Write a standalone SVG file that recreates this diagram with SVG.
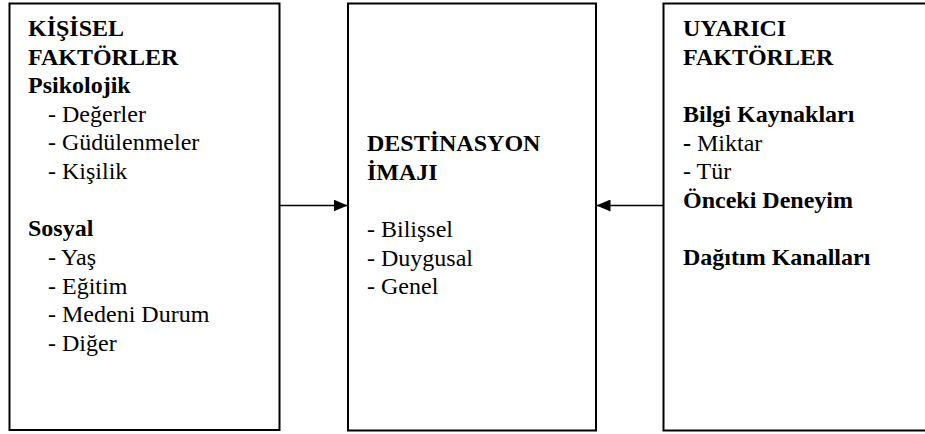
<svg xmlns="http://www.w3.org/2000/svg" width="925" height="434" viewBox="0 0 925 434" font-family="Liberation Serif, Times New Roman, serif" font-size="24">
  <style>
    .box { fill: #ffffff; stroke: #000000; stroke-width: 2; }
    .conn { stroke: #000000; stroke-width: 1.6; fill: none; }
    .b { font-weight: bold; }
  </style>
  <defs>
    <marker id="arrow" markerWidth="14" markerHeight="12" refX="14" refY="6" orient="auto" markerUnits="userSpaceOnUse" viewBox="0 0 14 12">
      <path d="M0,0 L14,6 L0,12 Z" fill="#000000"/>
    </marker>
  </defs>
  <rect width="925" height="434" fill="#ffffff"/>

  <g id="kisisel-faktorler">
    <rect class="box" x="9.5" y="3.5" width="270" height="426.5"/>
    <text class="b" x="28" y="36">KİŞİSEL</text>
    <text class="b" x="28" y="64.6">FAKTÖRLER</text>
    <text class="b" x="28" y="93.2">Psikolojik</text>
    <text x="48" y="121.8">- Değerler</text>
    <text x="48" y="150.4">- Güdülenmeler</text>
    <text x="48" y="179">- Kişilik</text>
    <text class="b" x="28" y="236.3">Sosyal</text>
    <text x="48" y="265">- Yaş</text>
    <text x="48" y="293.6">- Eğitim</text>
    <text x="48" y="322.3">- Medeni Durum</text>
    <text x="48" y="351">- Diğer</text>
  </g>

  <g id="destinasyon-imaji">
    <rect class="box" x="348" y="3.5" width="248" height="427"/>
    <text class="b" x="367" y="151.4">DESTİNASYON</text>
    <text class="b" x="367" y="180">İMAJI</text>
    <text x="367" y="237.3">- Bilişsel</text>
    <text x="367" y="265.5">- Duygusal</text>
    <text x="367" y="293.5">- Genel</text>
  </g>

  <g id="uyarici-faktorler">
    <rect class="box" x="663.5" y="3.5" width="270" height="427"/>
    <text class="b" x="683" y="36">UYARICI</text>
    <text class="b" x="683" y="64.6">FAKTÖRLER</text>
    <text class="b" x="683" y="122.3">Bilgi Kaynakları</text>
    <text x="683" y="150.6"><tspan class="b">-</tspan> Miktar</text>
    <text x="683" y="179">- Tür</text>
    <text class="b" x="683" y="207.8">Önceki Deneyim</text>
    <text class="b" x="683" y="265">Dağıtım Kanalları</text>
  </g>

  <g id="connectors">
    <line class="conn" x1="280" y1="205.5" x2="347.5" y2="205.5" marker-end="url(#arrow)"/>
    <line class="conn" x1="663" y1="205.5" x2="596.5" y2="205.5" marker-end="url(#arrow)"/>
  </g>
</svg>
